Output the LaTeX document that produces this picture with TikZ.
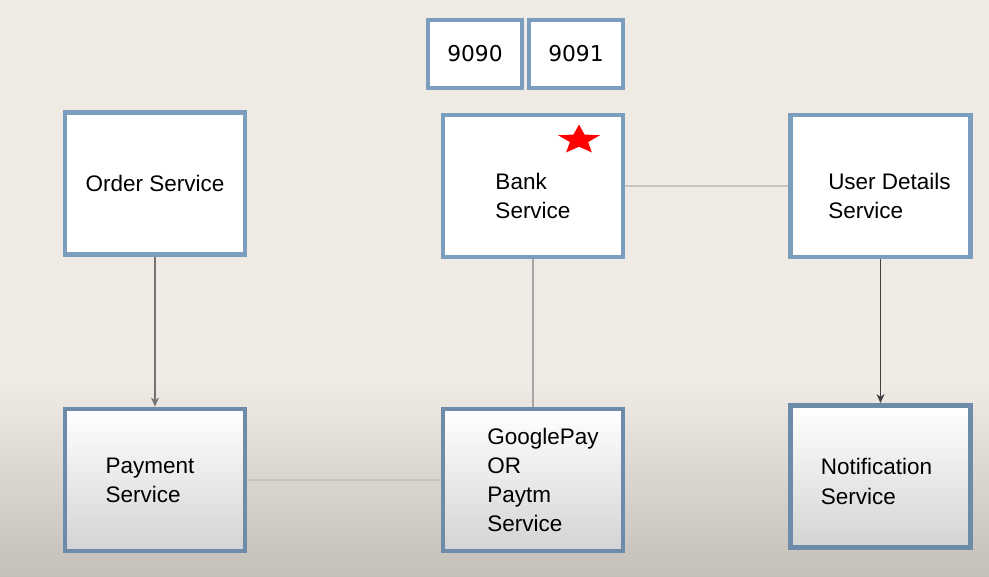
\documentclass[tikz,border=0pt]{standalone}
\usepackage{fontspec}
\setmainfont{Liberation Sans}
\newfontfamily\numfont{DejaVu Sans}
\usetikzlibrary{arrows.meta,shapes.geometric}
\definecolor{bgtop}{RGB}{239,235,228}
\definecolor{bgbot}{RGB}{196,192,185}
\definecolor{boxline}{RGB}{123,158,190}
\definecolor{boxlinedark}{RGB}{108,140,170}
\definecolor{linklight}{RGB}{200,196,190}
\tikzset{
    txt/.style={align=left, inner sep=0pt, font=\fontsize{6.4}{8.3}\selectfont},
    svc/.style={draw=boxline, line width=1.4pt, fill=white, minimum width=1.80cm,
        minimum height=1.42cm, txt},
    svclow/.style={svc, draw=boxlinedark, top color=white, bottom color=black!17},
    port/.style={draw=boxline, line width=1.4pt, fill=white, minimum width=0.94cm,
        minimum height=0.68cm, inner sep=0pt, font=\numfont\fontsize{6.2}{7}\selectfont},
    call/.style={-{Stealth[length=0.9mm,width=0.8mm]}, line width=0.35pt},
    link/.style={line width=0.5pt, draw=linklight}
}
\begin{document}
\begin{tikzpicture}
    \useasboundingbox (0,0) rectangle (9.89,-5.77);
    \fill[bgtop] (0,0) rectangle (9.89,-5.77);
    \shade[top color=bgtop, bottom color=bgbot] (0,-3.85) rectangle (9.89,-5.77);

    \node[port] (p9090) at (4.75,-0.54) {9090};
    \node[port] (p9091) at (5.76,-0.54) {9091};

    \node[svc] (order) at (1.55,-1.835) {Order Service};
    \node[svc, label={[txt, yshift=-0.10cm]center:{Bank\\Service}}] (bank) at (5.33,-1.86) {};
    \node[svc, label={[txt, xshift=0.09cm, yshift=-0.10cm]center:{User Details\\Service}}] (user) at (8.805,-1.86) {};

    \node[svclow, label={[txt, xshift=-0.05cm]center:{Payment\\Service}}] (payment) at (1.55,-4.80) {};
    \node[svclow, label={[txt, xshift=0.10cm]center:{GooglePay\\OR\\Paytm\\Service}}] (gpay) at (5.33,-4.80) {};
    \node[svclow, label={[txt, xshift=-0.04cm, yshift=-0.05cm]center:{Notification\\Service}}] (notif) at (8.805,-4.765) {};

    \node[star, star points=5, star point ratio=2.3, fill=red, inner sep=0pt,
        minimum size=0.44cm, yscale=0.7, transform shape] (flag) at (5.79,-1.40) {};

    \draw[call, draw=black!55] (order) -- (payment);
    \draw[call, draw=black!75] (user) -- (notif);
    \draw[link, draw=black!35] (bank) -- (gpay);
    \draw[link] (bank) -- (user);
    \draw[link] (payment) -- (gpay);
\end{tikzpicture}
\end{document}
